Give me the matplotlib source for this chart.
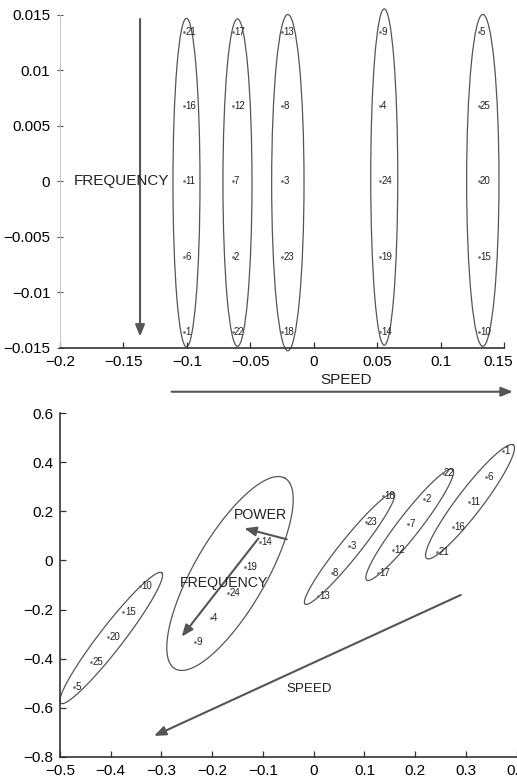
import numpy as np
import matplotlib
matplotlib.use('Agg')
import matplotlib.pyplot as plt
from matplotlib.patches import Ellipse
from matplotlib.transforms import ScaledTranslation

plt.rcParams['font.family'] = ['Liberation Sans', 'DejaVu Sans']

# ---------------- top panel data (speed vs frequency) ----------------
top_labels = [21, 16, 11, 6, 1,
              17, 12, 7, 2, 22,
              13, 8, 3, 23, 18,
              9, 4, 24, 19, 14,
              5, 25, 20, 15, 10]
top_x = [-0.102, -0.102, -0.102, -0.102, -0.102,
         -0.064, -0.064, -0.064, -0.064, -0.064,
         -0.025, -0.025, -0.025, -0.025, -0.025,
         0.052, 0.052, 0.052, 0.052, 0.052,
         0.130, 0.130, 0.130, 0.130, 0.130]
top_y = [0.0135, 0.0068, 0.0, -0.0068, -0.0136,
         0.0135, 0.0068, 0.0, -0.0068, -0.0136,
         0.0135, 0.0068, 0.0, -0.0068, -0.0136,
         0.0135, 0.0068, 0.0, -0.0068, -0.0136,
         0.0135, 0.0068, 0.0, -0.0068, -0.0136]
top_ell_cx = [-0.1003, -0.0601, -0.0204, 0.0556, 0.1333]
top_ell_cy = [-0.0001, -0.0001, -0.0001, 0.0004, 0.0001]
top_ell_w = [0.0213, 0.0229, 0.0255, 0.0213, 0.0255]
top_ell_h = [0.0296, 0.0295, 0.0303, 0.0303, 0.0299]
top_xticks = [-0.2, -0.15, -0.1, -0.05, 0, 0.05, 0.1, 0.15]
top_xticklabels = ['\u22120.2', '\u22120.15', '\u22120.1', '\u22120.05', '0', '0.05', '0.1', '0.15']
top_yticks = [-0.015, -0.01, -0.005, 0, 0.005, 0.01, 0.015]
top_yticklabels = ['\u22120.015', '\u22120.01', '\u22120.005', '0', '0.005', '0.01', '0.015']

# ---------------- bottom panel data (projection) ----------------
bot_labels = [1, 6, 11, 16, 21,
              22, 2, 7, 12, 17,
              18, 23, 3, 8, 13,
              14, 19, 24, 4, 9,
              10, 15, 20, 25, 5]
bot_x = [0.3725, 0.339, 0.3067, 0.275, 0.2436,
         0.254, 0.2174, 0.1865, 0.1555, 0.126,
         0.136, 0.1023, 0.0696, 0.0354, 0.0079,
         -0.106, -0.1354, -0.1683, -0.203, -0.234,
         -0.3423, -0.375, -0.4048, -0.4395, -0.4724]
bot_y = [0.4475, 0.340, 0.2396, 0.1377, 0.0358,
         0.3554, 0.249, 0.1475, 0.0427, -0.0523,
         0.263, 0.1556, 0.059, -0.0498, -0.1448,
         0.074, -0.028, -0.1314, -0.2333, -0.331,
         -0.104, -0.209, -0.3107, -0.4126, -0.5146]
bot_ell_cx = [-0.3991, -0.165, 0.0706, 0.1892, 0.308]
bot_ell_cy = [-0.316, -0.0531, 0.048, 0.1459, 0.2396]
bot_ell_tipx = [-0.2996, -0.0566, 0.1583, 0.274, 0.3934]
bot_ell_tipy = [-0.0498, 0.3354, 0.2739, 0.3717, 0.4708]
bot_ell_ratio = [0.145, 0.327, 0.14, 0.157, 0.175]
bot_xticks = [-0.5, -0.4, -0.3, -0.2, -0.1, 0, 0.1, 0.2, 0.3, 0.4]
bot_xticklabels = ['\u22120.5', '\u22120.4', '\u22120.3', '\u22120.2', '\u22120.1', '0', '0.1', '0.2', '0.3', '0.4']
bot_yticks = [-0.8, -0.6, -0.4, -0.2, 0, 0.2, 0.4, 0.6]
bot_yticklabels = ['\u22120.8', '\u22120.6', '\u22120.4', '\u22120.2', '0', '0.2', '0.4', '0.6']

LINE = '#555555'
ARROW = dict(arrowstyle='-|>,head_length=0.5,head_width=0.2', color=LINE, lw=1.5,
             mutation_scale=14, shrinkA=0, shrinkB=0)
TICKFS = 11
LABFS = 7

fig = plt.figure(figsize=(5.17, 7.81), dpi=100)

# ---------------- top axes ----------------
ax1 = fig.add_axes([60/517, 1-348/781, 444/517, 333/781])
ax1.set_xlim(-0.2, 0.15)
ax1.set_ylim(-0.015, 0.015)
for s in ['top', 'right']:
    ax1.spines[s].set_visible(False)
ax1.spines['left'].set_color('#c8c8c8')
ax1.spines['left'].set_linewidth(0.7)
ax1.spines['bottom'].set_color('#333333')
ax1.spines['bottom'].set_linewidth(1.2)
ax1.set_xticks(top_xticks)
ax1.set_xticklabels(top_xticklabels, fontsize=TICKFS)
ax1.set_yticks(top_yticks)
ax1.set_yticklabels(top_yticklabels, fontsize=TICKFS)
ax1.tick_params(axis='x', direction='in', length=4, width=0.9, color='#333333', pad=5)
ax1.tick_params(axis='y', direction='inout', length=4, width=0.8, color='#555555', pad=5)
last = ax1.get_xticklabels()[-1]
last.set_transform(last.get_transform() + ScaledTranslation(-4/72, 0, fig.dpi_scale_trans))

for cx, cy, w, h in zip(top_ell_cx, top_ell_cy, top_ell_w, top_ell_h):
    ax1.add_patch(Ellipse((cx, cy), w, h, fill=False, edgecolor=LINE, lw=0.9, clip_on=False))
ax1.plot(top_x, top_y, '.', color='#777777', markersize=2)
for x, y, lab in zip(top_x, top_y, top_labels):
    ax1.annotate(str(lab), (x, y), xytext=(1.0, 0), textcoords='offset points',
                 ha='left', va='center', fontsize=LABFS, color='#222222')

ax1.annotate('', xy=(-0.1369, -0.01398), xytext=(-0.1369, 0.01464),
             arrowprops=ARROW, annotation_clip=False)
ax1.annotate('', xy=(0.157, -0.01894), xytext=(-0.112, -0.01894),
             arrowprops=ARROW, annotation_clip=False)
ax1.text(-0.189, 0.0, 'FREQUENCY', fontsize=11, ha='left', va='center', color='#222222')
ax1.text(0.005, -0.0179, 'SPEED', fontsize=11, ha='left', va='center', color='#222222',
         clip_on=False)

# ---------------- bottom axes ----------------
ax2 = fig.add_axes([60/517, 1-756.7/781, 456.7/517, 343.4/781])
ax2.set_xlim(-0.5, 0.4)
ax2.set_ylim(-0.8, 0.6)
for s in ['top', 'right']:
    ax2.spines[s].set_visible(False)
for s in ['left', 'bottom']:
    ax2.spines[s].set_color('#333333')
    ax2.spines[s].set_linewidth(1.2)
ax2.set_xticks(bot_xticks)
ax2.set_xticklabels(bot_xticklabels, fontsize=TICKFS)
ax2.set_yticks(bot_yticks)
ax2.set_yticklabels(bot_yticklabels, fontsize=TICKFS)
ax2.tick_params(axis='both', direction='in', length=4, width=0.9, color='#333333', pad=5)


def rot_ellipse(ax, c, tip, ratio):
    T = ax.transData
    cd = T.transform(c)
    td = T.transform(tip)
    u = td - cd
    v = np.array([-u[1], u[0]]) * ratio
    t = np.linspace(0, 2 * np.pi, 240)
    pts = cd + np.outer(np.cos(t), u) + np.outer(np.sin(t), v)
    dp = T.inverted().transform(pts)
    ax.plot(dp[:, 0], dp[:, 1], color=LINE, lw=0.9, clip_on=False)


for cx, cy, tx, ty, r in zip(bot_ell_cx, bot_ell_cy, bot_ell_tipx, bot_ell_tipy, bot_ell_ratio):
    rot_ellipse(ax2, (cx, cy), (tx, ty), r)

ax2.plot(bot_x, bot_y, '.', color='#777777', markersize=2)
for x, y, lab in zip(bot_x, bot_y, bot_labels):
    ax2.annotate(str(lab), (x, y), xytext=(1.0, 0), textcoords='offset points',
                 ha='left', va='center', fontsize=LABFS, color='#222222')

ax2.annotate('', xy=(-0.1368, 0.1312), xytext=(-0.0532, 0.0864), arrowprops=ARROW)
ax2.annotate('', xy=(-0.2602, -0.3107), xytext=(-0.109, 0.090), arrowprops=ARROW)
ax2.annotate('', xy=(-0.3147, -0.7155), xytext=(0.2897, -0.1407), arrowprops=ARROW)
ax2.text(-0.157, 0.1854, 'POWER', fontsize=10.2, ha='left', va='center', color='#222222')
ax2.text(-0.2635, -0.093, 'FREQUENCY', fontsize=10.2, ha='left', va='center', color='#222222')
ax2.text(-0.0532, -0.525, 'SPEED', fontsize=9.6, ha='left', va='center', color='#222222')

fig.savefig('out.png', dpi=100)
